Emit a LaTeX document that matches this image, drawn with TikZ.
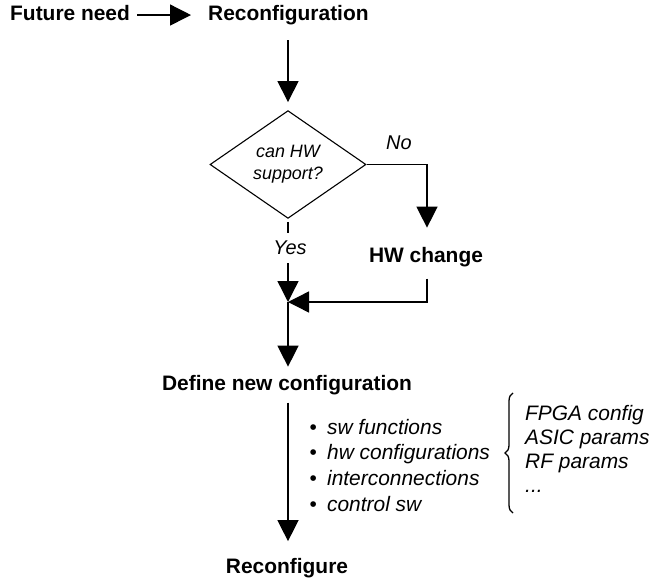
\documentclass[tikz,border=0pt]{standalone}
\usepackage{fontspec}
\setmainfont{Liberation Sans}
\usetikzlibrary{arrows.meta,shapes.geometric,decorations.pathreplacing}

\begin{document}
\begin{tikzpicture}[x=1bp,y=-1bp,
  conn/.style={line width=1.4bp},
  arr/.style={conn,-{Triangle[width=21bp,length=21bp]}},
  title/.style={font=\fontsize{21}{25}\selectfont\bfseries,inner sep=0pt},
  note/.style={font=\fontsize{21}{25}\selectfont\itshape,inner sep=0pt,anchor=base west},
  lbl/.style={font=\fontsize{20}{24}\selectfont\itshape,inner sep=0pt,anchor=base},
  bul/.style={font=\fontsize{21}{25}\selectfont,inner sep=0pt,anchor=base west}
]
\useasboundingbox (0,0) rectangle (652,587);

% main flow
\node[title,anchor=base west] (need) at (10,21) {Future need};
\node[title,anchor=base west] (reconf) at (208,21) {Reconfiguration};
\node[diamond,draw,line width=1.1bp,minimum width=156bp,minimum height=95bp,
      inner sep=0pt,align=center,font=\fontsize{18}{22}\selectfont\itshape]
      (dec) at (288,164.5) {can HW\\support?};
\node[lbl,anchor=base west] (no) at (386,150) {No};
\node[lbl] (yes) at (290,254) {Yes};
\node[title,anchor=base] (hwc) at (426,262) {HW change};
\coordinate (j) at (288,302);
\node[title,anchor=base] (def) at (287,390) {Define new configuration};
\node[title,anchor=base] (rec) at (287,573) {Reconfigure};

% connectors
\draw[arr,shorten <=7bp] ([yshift=-1.5bp]need.east) -- ([yshift=-1.5bp]reconf.west |- need.east)
  [shorten >=17bp];
\draw[arr,shorten <=14.6bp,shorten >=8bp] (dec.north |- reconf.south) -- (dec.north);
\draw[arr,shorten >=19bp] (dec.east) -| ([xshift=1bp]hwc.north);
\draw[conn,shorten <=3bp,shorten >=7bp] (dec.south) -- (dec.south |- yes.north);
\draw[arr,shorten <=9bp] (dec.south |- yes.south) -- (j);
\draw[arr,shorten <=12bp] ([xshift=1bp]hwc.south) |- (j);
\draw[arr,shorten >=8bp] (j) -- (j |- def.north);
\draw[arr,shorten <=8bp,shorten >=16.5bp] (j |- def.south) -- (j |- rec.north);

% configuration items
\node[bul] (i1) at (309.3,434) {\textbullet\hspace{10.3bp}\textit{sw functions}};
\node[bul] (i2) at (309.3,459.7) {\textbullet\hspace{10.3bp}\textit{hw configurations}};
\node[bul] (i3) at (309.3,485.4) {\textbullet\hspace{10.3bp}\textit{interconnections}};
\node[bul] (i4) at (309.3,511.1) {\textbullet\hspace{10.3bp}\textit{control sw}};

% hardware details
\coordinate (bb) at (513,513);
\coordinate (bt) at (513,393);
\draw[line width=1.3bp,decorate,decoration={brace,amplitude=8bp}] (bb) -- (bt);
\node[note] (r1) at (525,420) {FPGA config};
\node[note] (r2) at (525,444.3) {ASIC params};
\node[note] (r3) at (525,468.6) {RF params};
\node[note] (r4) at (525,492.9) {...};
\end{tikzpicture}
\end{document}
